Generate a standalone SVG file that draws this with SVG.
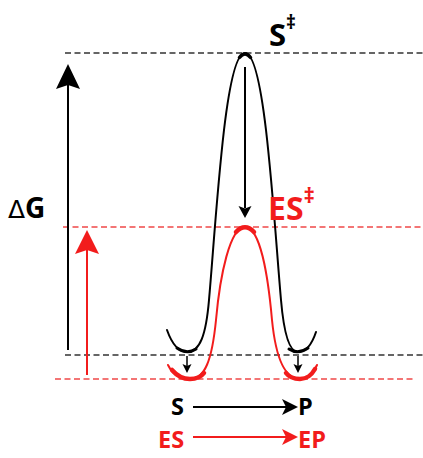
<svg xmlns="http://www.w3.org/2000/svg" width="423" height="458" viewBox="0 0 423 458">
<style>
.dk{stroke:#333;stroke-width:1.5;stroke-dasharray:6 3.5;fill:none}
.dr{stroke:#f04848;stroke-width:1.5;stroke-dasharray:6 3.5;fill:none}
.cb{stroke:#000;fill:none;stroke-width:2;stroke-linecap:round}
.cr{stroke:#f21c1c;fill:none;stroke-width:2;stroke-linecap:round}
.lb{stroke:#000;stroke-width:2;fill:none}
.lr{stroke:#f21c1c;stroke-width:2;fill:none}
.t{font-family:"Open Sans","Liberation Sans",sans-serif;font-weight:bold}
.k{fill:#000}
.r{fill:#f21c1c}
</style>
<rect width="423" height="458" fill="#fff"/>
<g id="levels">
<line class="dk" x1="65" y1="53" x2="423" y2="53"/>
<line class="dr" x1="63" y1="227" x2="423" y2="227"/>
<line class="dk" x1="65" y1="355" x2="423" y2="355"/>
<line class="dr" x1="55" y1="379" x2="415" y2="379"/>
</g>
<g id="uncatalysed-curve">
<path class="cb" d="M167,330 C172,344 178,352 187,352 C200,352 206,335 209,300 C213,255 217,190 224,130 C229,88 236,53 245,53 C254,53 261,88 266,130 C273,190 277,255 281,300 C284,335 290,352 298,352 C307,352 312,344 316,332"/>
<path class="cb" style="stroke-width:3.5" d="M239.5,57.5 Q245,50.5 250.5,57.5"/>
<path class="cb" style="stroke-width:3" d="M177,348 Q187,355 196,349"/>
<path class="cb" style="stroke-width:3" d="M289,349 Q298,355 308,348"/>
</g>
<g id="catalysed-curve">
<path class="cr" d="M168,365 C173,375 180,379 190,379 C205,379 212,360 216,320 C220,275 230,227 245,227 C260,227 268,275 272,320 C276,360 285,379 300,379 C308,379 313,374 317,365"/>
<path class="cr" style="stroke-width:4.5" d="M236,232 Q245,222.5 254,232"/>
<path class="cr" style="stroke-width:4.5" d="M172,370 C178,377 183,379 190,379 C197,379 201,377 204,373"/>
<path class="cr" style="stroke-width:4.5" d="M286,373 C289,377 293,379 300,379 C307,379 311,376 315,369"/>
</g>
<g id="connectors">
<line class="lb" x1="68" y1="350" x2="68" y2="80"/>
<path class="k" d="M68,64 L80,89 L68,85 L56,89 Z"/>
<line class="lr" x1="87" y1="375" x2="87" y2="245"/>
<path class="r" d="M87,230 L99,254 L87,250 L75,254 Z"/>
<line class="lb" x1="245" y1="67" x2="245" y2="208"/>
<path class="k" d="M245,218 L238.5,206 L245,208.5 L251.5,206 Z"/>
<line class="lb" style="stroke-width:1.5" x1="187" y1="356" x2="187" y2="366"/>
<path class="k" d="M187,373 L182.5,364 L187,366 L191.5,364 Z"/>
<line class="lb" style="stroke-width:1.5" x1="298" y1="356" x2="298" y2="366"/>
<path class="k" d="M298,373 L293.5,364 L298,366 L302.5,364 Z"/>
<line class="lb" x1="193" y1="407" x2="288" y2="407"/>
<path class="k" d="M298,407 L282,399 L286,407 L282,415 Z"/>
<line class="lr" x1="193" y1="437" x2="288" y2="437"/>
<path class="r" d="M298,437 L282,429 L286,437 L282,445 Z"/>
</g>
<g id="labels">
<text class="t k" x="8" y="218" font-size="28"><tspan font-weight="normal" font-family="DejaVu Sans, sans-serif" font-size="25">Δ</tspan>G</text>
<text class="t k" x="269" y="46" font-size="31">S<tspan font-size="19" dy="-17">‡</tspan></text>
<text class="t r" x="268" y="220" font-size="32">ES<tspan font-size="22" dy="-17">‡</tspan></text>
<text class="t k" x="171" y="415" font-size="23.5">S</text>
<text class="t k" x="298" y="415" font-size="23.5">P</text>
<text class="t r" x="158" y="448" font-size="23.5">ES</text>
<text class="t r" x="298" y="448" font-size="23.5">EP</text>
</g>
</svg>
